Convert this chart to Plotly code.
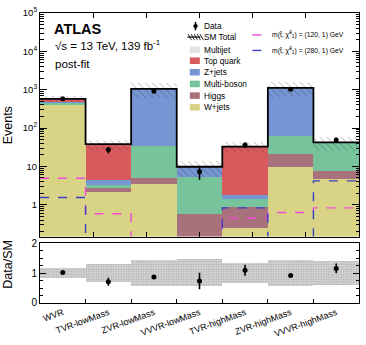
import numpy as np
import plotly.graph_objects as go

# ---------------- data ----------------
regions = ["WVR", "TVR-lowMass", "ZVR-lowMass", "VVVR-lowMass",
           "TVR-highMass", "ZVR-highMass", "VVVR-highMass"]

# background stack (bottom -> top)
wjets      = [400.0, 2.2, 3.5, 0.07, 0.25, 9.5, 4.6]
higgs      = [3.0, 0.6, 1.6, 0.5, 0.6, 12.0, 3.2]
multiboson = [70.0, 0.45, 28.0, 4.8, 0.55, 42.0, 34.0]
zjets      = [10.0, 1.25, 1015.0, 4.4, 0.35, 1050.0, 0.2]
topquark   = [90.0, 33.5, 2.0, 0.03, 31.2, 5.0, 0.4]
multijet   = [2.0, 0.0, 0.0, 0.0, 0.0, 0.0, 0.0]

data_obs   = [585.0, 27.0, 915.0, 7.2, 36.0, 1030.0, 49.0]
sm_rel_unc = [0.16, 0.31, 0.43, 0.45, 0.32, 0.43, 0.40]

sig_120_1  = [4.9, 0.58, 0.001, 0.001, 0.45, 0.63, 0.83]
sig_280_1  = [1.54, 0.001, 0.001, 0.001, 0.83, 0.001, 4.2]

# ---------------- styling ----------------
FONT = "Liberation Sans, Arial, Helvetica, sans-serif"
C_MULTIJET = "#e2e2e2"
C_TOP = "#d95a5c"
C_Z = "#7595d3"
C_VV = "#76c39c"
C_H = "#a9717b"
C_W = "#d9d485"
C_SIG1 = "#ee4bd8"
C_SIG2 = "#3b3fc4"

W, H = 366, 345
ML, MR, MT, MB = 40, 6, 10, 25
PW, PH = W - ML - MR, H - MT - MB


def px(x):
    return (x - ML) / PW


def py(y):
    return (H - MB - y) / PH


n = len(regions)
centers = np.arange(n, dtype=float)
edges = np.arange(n + 1) - 0.5

stack = [("W+jets", wjets, C_W), ("Higgs", higgs, C_H),
         ("Multi-boson", multiboson, C_VV), ("Z+jets", zjets, C_Z),
         ("Top quark", topquark, C_TOP), ("Multijet", multijet, C_MULTIJET)]

fig = go.Figure()

base = np.full(n, 1e-3)
for name, vals, col in stack:
    v = np.array(vals)
    fig.add_trace(go.Bar(x=centers, y=v, base=base, width=1.0, name=name,
                         marker=dict(color=col, line=dict(width=0)),
                         showlegend=False, xaxis="x", yaxis="y"))
    base = base + v

total = base - 1e-3
unc = np.array(sm_rel_unc)

# hatched uncertainty band
fig.add_trace(go.Bar(x=centers, y=total * 2 * unc, base=total * (1 - unc), width=1.0,
                     marker=dict(color="rgba(0,0,0,0)", line=dict(width=0),
                                 pattern=dict(shape="\\", fgcolor="#333333", size=5,
                                              solidity=0.14, fillmode="overlay")),
                     showlegend=False, xaxis="x", yaxis="y"))

# signal lines
for sig, col in [(sig_120_1, C_SIG1), (sig_280_1, C_SIG2)]:
    fig.add_trace(go.Scatter(x=edges, y=list(sig) + [sig[-1]], mode="lines",
                             line=dict(color=col, dash="dash", width=1.4, shape="hv"),
                             showlegend=False, xaxis="x", yaxis="y"))

# total line
fig.add_trace(go.Scatter(x=edges, y=list(total) + [total[-1]], mode="lines",
                         line=dict(color="black", width=1.8, shape="hv"),
                         showlegend=False, xaxis="x", yaxis="y"))

dobs = np.array(data_obs)
fig.add_trace(go.Scatter(x=centers, y=dobs, mode="markers",
                         marker=dict(color="black", size=5),
                         error_y=dict(type="data", array=np.sqrt(dobs), color="black",
                                      thickness=1.6, width=0),
                         showlegend=False, xaxis="x", yaxis="y"))

# ratio panel
fig.add_trace(go.Bar(x=centers, y=2 * unc, base=1 - unc, width=1.0,
                     marker=dict(color="#d6d6d6", line=dict(width=0),
                                 pattern=dict(shape=".", fgcolor="#8a8a8a", size=2.5,
                                              solidity=0.4)),
                     showlegend=False, xaxis="x2", yaxis="y2"))
ratio = dobs / total
ratio_err = np.sqrt(dobs) / total
fig.add_trace(go.Scatter(x=centers, y=ratio, mode="markers",
                         marker=dict(color="black", size=5),
                         error_y=dict(type="data", array=ratio_err, color="black",
                                      thickness=1.6, width=0),
                         showlegend=False, xaxis="x2", yaxis="y2"))

main_bottom = py(249)
ratio_top = py(256)

major = [1, 10, 100, 1000, 10000, 100000]
major_txt = ["1", "10", "10<sup>2</sup>", "10<sup>3</sup>", "10<sup>4</sup>", "10<sup>5</sup>"]
minor_vals = [k * 10.0 ** d for d in range(-1, 5) for k in range(2, 10)]

root_ticks = [-0.5 + 7 / 6 * k for k in range(1, 6)]

fig.update_layout(
    width=W, height=H,
    margin=dict(l=ML, r=MR, t=MT, b=MB),
    paper_bgcolor="white", plot_bgcolor="white",
    barmode="overlay", bargap=0,
    font=dict(family=FONT, color="black"),
    showlegend=False,
    xaxis=dict(domain=[0, 1], range=[-0.5, 6.5], anchor="y",
               tickmode="array", tickvals=root_ticks, showticklabels=False,
               ticks="inside", ticklen=5, tickcolor="black",
               showline=True, linecolor="black", linewidth=1, mirror="ticks",
               showgrid=False, zeroline=False),
    yaxis=dict(domain=[main_bottom, 1], type="log", range=[-0.83, 5], anchor="x",
               tickmode="array", tickvals=major, ticktext=major_txt,
               ticks="inside", ticklen=7, tickcolor="black",
               minor=dict(tickmode="array", tickvals=minor_vals, ticks="inside",
                          ticklen=3.5, tickcolor="black", showgrid=False),
               tickfont=dict(size=9.5),
               showline=True, linecolor="black", linewidth=1, mirror="ticks",
               showgrid=False, zeroline=False),
    xaxis2=dict(domain=[0, 1], range=[-0.5, 6.5], anchor="y2", matches="x",
                tickmode="array", tickvals=list(centers), ticktext=regions,
                tickangle=-20, ticks="inside", ticklen=0,
                minor=dict(tickmode="array", tickvals=list(edges[1:-1]), ticks="inside",
                           ticklen=4, tickcolor="black"),
                tickfont=dict(size=9),
                showline=True, linecolor="black", linewidth=1, mirror=True,
                showgrid=False, zeroline=False),
    yaxis2=dict(domain=[0, ratio_top], range=[0, 2], anchor="x2",
                tickmode="array", tickvals=[0, 1, 2],
                ticks="inside", ticklen=6, tickcolor="black",
                minor=dict(tickmode="array", tickvals=[0.25, 0.5, 0.75, 1.25, 1.5, 1.75],
                           ticks="inside", ticklen=3, tickcolor="black"),
                tickfont=dict(size=10),
                showline=True, linecolor="black", linewidth=1, mirror="ticks",
                showgrid=False, zeroline=False),
)

ann = []
shapes = []


def text(x, y, s, size, **kw):
    d = dict(x=px(x), y=py(y), xref="paper", yref="paper", text=s, showarrow=False,
             xanchor="left", yanchor="middle", font=dict(size=size, family=FONT, color="black"))
    d.update(kw)
    ann.append(d)


text(52, 27, "<b>ATLAS</b>", 14.5)
text(53, 44, "√s = 13 TeV, 139 fb<sup>-1</sup>", 11.5)
text(53, 64, "post-fit", 11.5)

# axis titles
ann.append(dict(x=px(8), y=py(130), xref="paper", yref="paper", text="Events", showarrow=False,
                textangle=-90, xanchor="center", yanchor="middle",
                font=dict(size=12.5, family=FONT)))
ann.append(dict(x=px(8), y=py(279), xref="paper", yref="paper", text="Data/SM", showarrow=False,
                textangle=-90, xanchor="center", yanchor="middle",
                font=dict(size=12.5, family=FONT)))

# legend column 1
LX = 203
rows = [24, 36, 49.3, 61, 73.3, 85.8, 98.3, 110.8]
labels = ["Data", "SM Total", "Multijet", "Top quark", "Z+jets", "Multi-boson", "Higgs", "W+jets"]
for yy, lab in zip(rows, labels):
    text(LX, yy, lab, 8.3)


def pshape(**kw):
    kw.setdefault("xref", "paper")
    kw.setdefault("yref", "paper")
    shapes.append(kw)


# data marker
pshape(type="line", x0=px(196), x1=px(196), y0=py(19.5), y1=py(28.5), line=dict(color="black", width=1.5))
pshape(type="circle", x0=px(194), x1=px(198), y0=py(26), y1=py(22), fillcolor="black",
       line=dict(color="black", width=0.5))
# SM total symbol
for k in range(5):
    x0 = 188.5 + k * 3
    pshape(type="line", x0=px(x0), x1=px(x0 + 3.5), y0=py(32.5), y1=py(39),
           line=dict(color="black", width=0.8))
pshape(type="line", x0=px(188), x1=px(201), y0=py(35.7), y1=py(35.7),
       line=dict(color="black", width=1.2))
# colour swatches
for yy, col in zip(rows[2:], [C_MULTIJET, C_TOP, C_Z, C_VV, C_H, C_W]):
    pshape(type="rect", x0=px(190.3), x1=px(200.3), y0=py(yy - 3.5), y1=py(yy + 3.5),
           fillcolor=col, line=dict(width=0))

# legend column 2 (signals)
for yy, col, m in [(33.5, C_SIG1, "120"), (50, C_SIG2, "280")]:
    pshape(type="line", x0=px(253), x1=px(266), y0=py(yy), y1=py(yy),
           line=dict(color=col, width=1.4, dash="dash"))
    text(271, yy, "m(t\u0303, \u03c7\u0303<sup>0</sup><sub>1</sub>) = (" + m + ", 1) GeV", 6.8)

fig.update_layout(annotations=ann, shapes=shapes)

fig.write_html("out.html")
